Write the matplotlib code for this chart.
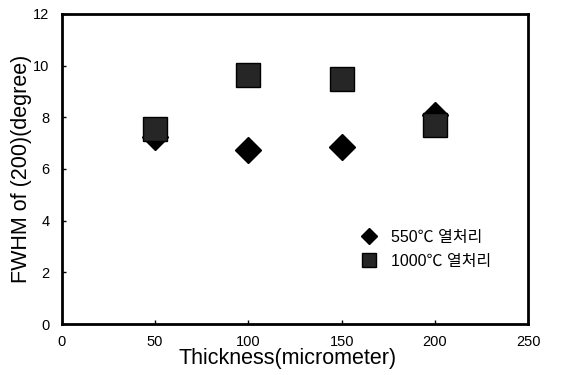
import matplotlib
matplotlib.use("Agg")
import matplotlib.pyplot as plt

plt.rcParams['font.family'] = ['Liberation Sans', 'Noto Sans CJK KR', 'DejaVu Sans']

thickness = [50, 100, 150, 200]
fwhm_550 = [7.25, 6.74, 6.86, 8.1]
fwhm_1000 = [7.54, 9.65, 9.48, 7.7]

fig = plt.figure(figsize=(5.62, 3.75), dpi=100)
ax = fig.add_axes([0.110, 0.136, 0.830, 0.827])

ax.plot(thickness, fwhm_550, linestyle='none', marker='D', markersize=13,
        color='black', label='550℃ 열처리')
ax.plot(thickness, fwhm_1000, linestyle='none', marker='s', markersize=17,
        markerfacecolor='#262626', markeredgecolor='black', markeredgewidth=1,
        label='1000℃ 열처리')

ax.set_xlim(0, 250)
ax.set_ylim(0, 12)
ax.set_xticks(range(0, 251, 50))
ax.set_yticks(range(0, 13, 2))
ax.tick_params(direction='in', length=3, width=1, labelsize=10.5)
ax.tick_params(axis='x', pad=8)
ax.tick_params(axis='y', pad=9)
for s in ax.spines.values():
    s.set_linewidth(2)

ax.set_xlabel('Thickness(micrometer)', fontsize=15.5, labelpad=-1, x=0.485)
ax.set_ylabel('FWHM of (200)(degree)', fontsize=15.5, labelpad=1)

leg = ax.legend(loc='upper left', bbox_to_anchor=(0.603, 0.35), frameon=False,
                fontsize=11.5, handletextpad=0.6, labelspacing=0.55,
                markerscale=0.62, handlelength=1.5)

fig.savefig('out.png', dpi=100)
